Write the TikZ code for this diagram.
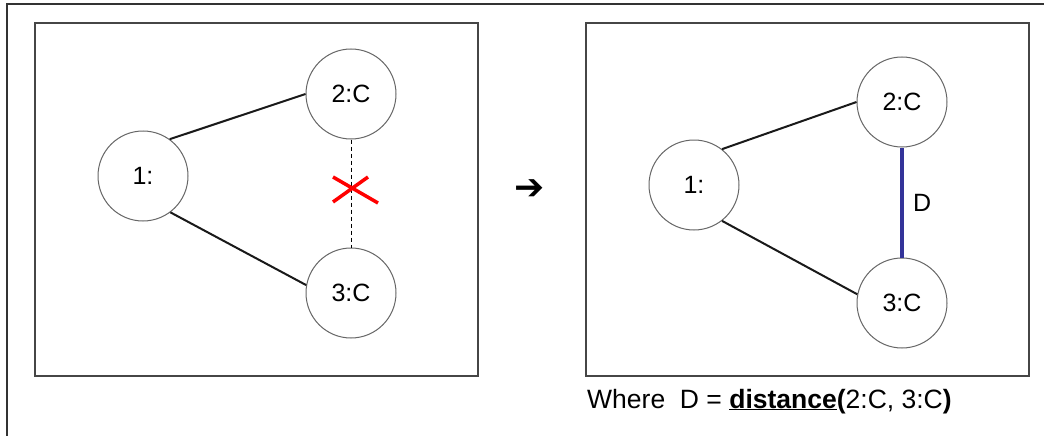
\documentclass[tikz,border=0pt]{standalone}
\usepackage{fontspec}
\setmainfont{Liberation Sans}
\newfontfamily\symfont{DejaVu Sans}
\definecolor{edgeblue}{RGB}{51,51,153}
\definecolor{framegray}{RGB}{70,70,70}
\tikzset{
	atom/.style={circle, draw=black!60, line width=1pt, fill=white, minimum size=90pt, inner sep=0pt, font=\fontsize{25}{30}\selectfont},
	bond/.style={line width=2pt, color=black!90},
	panel/.style={draw=framegray, line width=1.3pt},
}

\begin{document}
\begin{tikzpicture}[x=1pt, y=-1pt]
		\useasboundingbox (0, 0) rectangle (1044, 436);
		%%%%% START %%%%%
		
		\draw[line width=1.2pt, color=black!80] (7, 436) -- (7, 4) -- (1044, 4);
		
		% before
		\draw[panel] (35, 23) rectangle (478, 376);
		\node[atom] (l1) at (143, 176) {1:};
		\node[atom] (l2) at (351, 94) {2:C};
		\node[atom] (l3) at (351, 293) {3:C};
		\draw[bond] (l1.54) -- (l2.180);
		\draw[bond] (l1.-53) -- (l3.170);
		\draw[line width=1pt, dash pattern=on 4pt off 3pt] (l2.south) -- (l3.north);
		\draw[line width=3.5pt, color=red] (333, 177) -- (378, 203) (333, 202) -- (368, 177);
		
		\node[inner sep=0pt, font=\symfont\fontsize{36}{40}\selectfont] (step) at (530, 190) {➔};
		
		% after
		\draw[panel] (586, 23) rectangle (1029, 376);
		\node[atom] (r1) at (694, 185) {1:};
		\node[atom] (r2) at (902, 102) {2:C};
		\node[atom] (r3) at (902, 303) {3:C};
		\draw[bond] (r1.52) -- (r2.180);
		\draw[bond] (r1.-52) -- (r3.169);
		\draw[line width=3.5pt, color=edgeblue] (r2.south) -- node[right=6pt, text=black, font=\fontsize{25}{30}\selectfont] (dist) {D} (r3.north);
		
		\node[anchor=base west, inner sep=0pt, font=\fontsize{26.5}{30}\selectfont] (note) at (587, 408)
			{Where\ \ D = \underline{\textbf{distance}}\textbf{(}2:C, 3:C\textbf{)}};
		
		%%%%% END %%%%%
	\end{tikzpicture}
\end{document}
